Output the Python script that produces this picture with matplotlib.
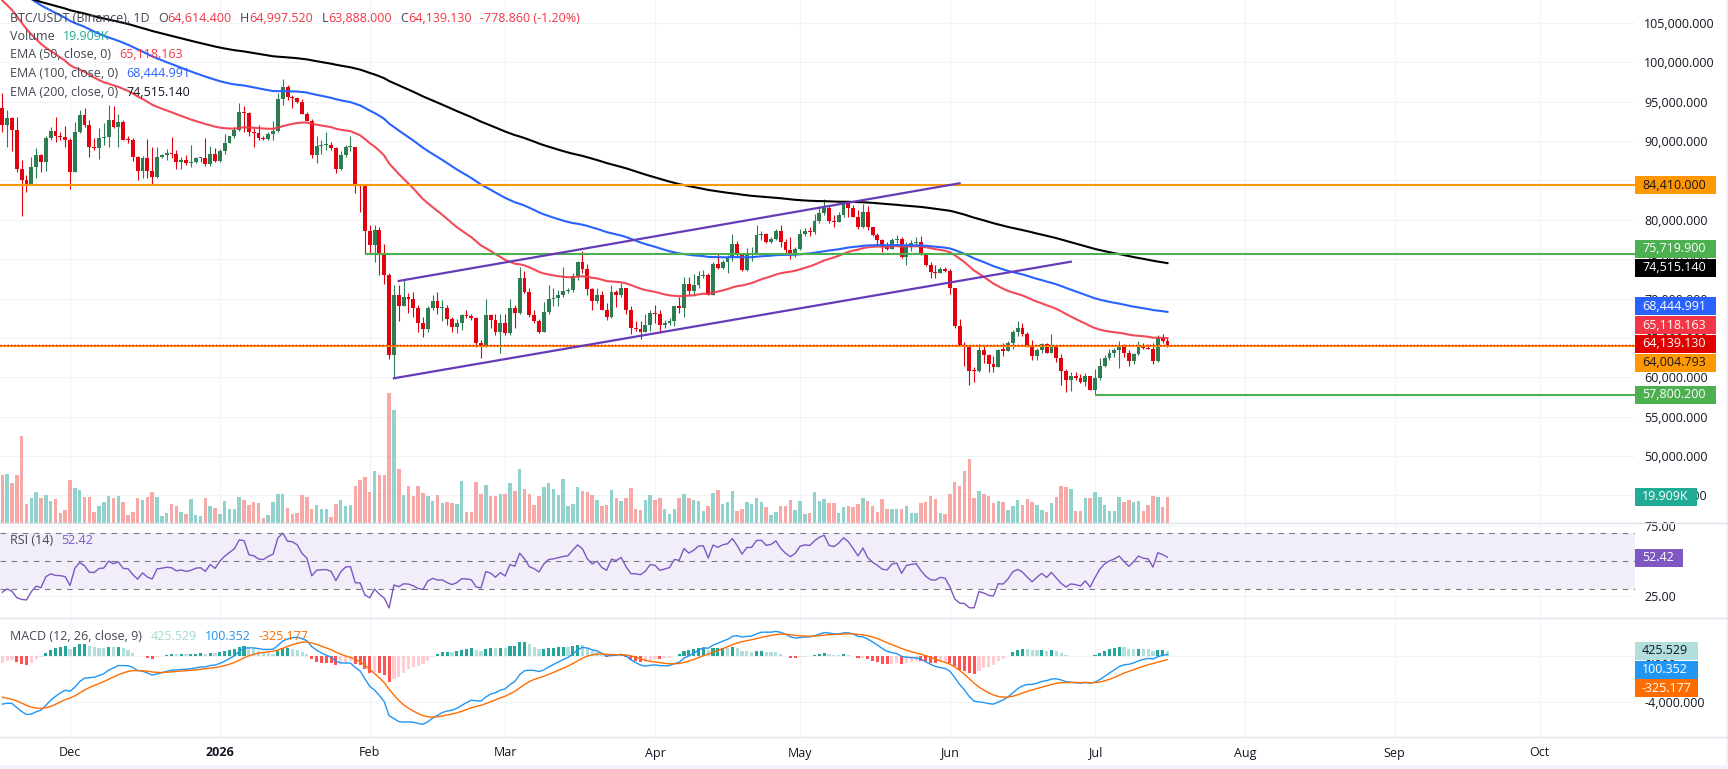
import numpy as np
import pandas as pd
import matplotlib
matplotlib.use("Agg")
import matplotlib.pyplot as plt
import matplotlib.transforms as mtransforms
from matplotlib.patches import Rectangle
from matplotlib.lines import Line2D
from matplotlib.ticker import FuncFormatter

plt.rcParams['font.family'] = ['Open Sans', 'DejaVu Sans']

# ---------------- data ----------------
# daily BTC/USDT candles, prices in thousands of USDT, first candle 2025-11-17
first_date = '2025-11-17'
first_open_k = 94.2
close_k = [
    92.0, 92.9, 91.4, 86.5, 85.1, 84.6, 86.7, 88.2, 87.3, 90.4,
    91.3, 90.6, 90.5, 90.1, 86.1, 91.2, 93.3, 92.0, 89.2, 89.1,
    90.35, 90.5, 92.7, 91.8, 92.4, 90.2, 90.1, 88.0, 86.2, 87.8,
    86.2, 85.4, 88.0, 88.2, 88.45, 88.3, 87.4, 87.6, 87.2, 87.4,
    87.8, 87.9, 87.1, 88.3, 87.5, 88.8, 89.8, 90.6, 91.4, 93.7,
    93.6, 91.2, 91.0, 90.4, 90.3, 90.9, 91.3, 95.3, 96.9, 95.6,
    95.5, 95.0, 93.5, 92.6, 88.2, 89.4, 89.5, 89.55, 89.1, 86.5,
    88.2, 89.2, 89.3, 84.4, 84.3, 78.6, 76.8, 78.7, 75.7, 73.0,
    62.8, 70.5, 69.1, 70.2, 70.0, 68.8, 66.9, 66.1, 68.8, 69.7,
    68.8, 68.85, 67.4, 66.4, 66.9, 67.9, 67.8, 67.5, 64.4, 63.9,
    67.9, 67.3, 65.7, 66.9, 65.6, 68.8, 68.2, 72.6, 70.8, 67.9,
    67.1, 65.8, 68.3, 69.9, 70.1, 70.5, 70.9, 71.1, 72.9, 74.7,
    73.8, 71.2, 69.7, 70.5, 68.6, 67.7, 70.8, 70.4, 71.3, 68.6,
    66.2, 66.1, 65.8, 66.6, 68.2, 68.0, 66.6, 66.9, 67.2, 69.0,
    68.8, 71.9, 70.9, 71.7, 72.9, 73.0, 70.5, 74.4, 73.9, 74.7,
    75.1, 76.9, 75.5, 73.6, 75.7, 75.75, 78.1, 78.2, 77.2, 77.5,
    78.6, 77.2, 76.2, 75.5, 76.3, 78.2, 78.6, 78.5, 79.8, 80.9,
    81.5, 79.9, 79.7, 80.6, 82.1, 81.5, 80.4, 79.1, 81.0, 79.1,
    78.1, 77.4, 76.5, 76.3, 77.4, 77.6, 75.3, 76.8, 77.0, 77.15,
    75.7, 74.3, 73.4, 73.3, 73.7, 73.5, 71.3, 66.5, 64.1, 63.8,
    60.85, 60.8, 63.5, 62.8, 61.65, 61.35, 63.5, 63.4, 64.3, 65.7,
    66.2, 65.5, 64.1, 62.7, 63.5, 64.2, 63.1, 64.0, 62.5, 60.85,
    59.6, 60.1, 59.9, 59.45, 60.2, 58.4, 59.9, 61.4, 62.5, 63.1,
    63.5, 64.1, 63.1, 62.1, 63.0, 64.1, 63.7, 63.6, 62.1, 64.95,
    64.614, 64.139]
high_k = [
    96.1, 93.9, 93.1, 93.1, 87.6, 85.7, 88.0, 89.1, 88.4, 90.6,
    91.8, 93.1, 91.1, 91.9, 90.4, 92.4, 94.0, 94.2, 92.7, 90.4,
    91.6, 92.3, 94.6, 94.4, 93.5, 92.7, 90.6, 90.4, 88.1, 88.1,
    90.3, 89.3, 89.3, 88.4, 89.0, 90.5, 88.9, 88.0, 88.2, 89.5,
    88.0, 88.0, 90.4, 89.4, 89.1, 89.0, 90.9, 90.6, 91.8, 94.8,
    94.4, 93.7, 91.6, 92.0, 90.6, 91.2, 92.5, 96.1, 97.9, 97.1,
    95.9, 95.6, 95.3, 93.7, 92.8, 90.6, 90.2, 91.2, 89.9, 89.2,
    88.7, 89.5, 90.6, 89.3, 84.6, 84.3, 79.3, 79.3, 79.1, 76.9,
    73.2, 71.7, 71.7, 72.4, 70.7, 70.8, 69.2, 67.7, 69.0, 70.4,
    70.8, 69.8, 69.2, 67.7, 67.4, 68.1, 68.6, 68.0, 67.6, 64.7,
    69.9, 68.1, 68.1, 68.1, 68.1, 69.9, 69.2, 74.0, 73.5, 71.4,
    68.5, 67.4, 69.5, 71.7, 71.3, 71.1, 74.0, 71.3, 73.3, 74.8,
    76.0, 74.4, 71.3, 71.3, 70.9, 69.4, 71.7, 71.1, 72.0, 71.3,
    69.0, 67.1, 67.1, 68.1, 68.5, 69.2, 68.6, 67.3, 67.5, 69.1,
    70.2, 72.7, 72.8, 73.1, 73.5, 73.6, 73.2, 74.7, 75.8, 74.9,
    75.5, 78.2, 77.3, 75.7, 76.4, 76.6, 79.3, 78.6, 78.3, 77.8,
    78.8, 79.4, 77.5, 77.8, 76.5, 78.8, 79.0, 79.1, 80.7, 81.8,
    82.7, 81.8, 80.6, 81.0, 82.4, 82.3, 81.9, 81.3, 82.0, 81.7,
    79.1, 78.3, 77.6, 77.2, 77.7, 78.1, 77.8, 77.2, 77.4, 77.8,
    77.9, 75.8, 74.6, 74.3, 74.0, 73.97, 73.8, 71.4, 67.4, 64.5,
    63.9, 61.3, 64.2, 64.1, 63.0, 62.7, 63.6, 64.3, 64.66, 66.0,
    67.2, 66.9, 65.8, 64.7, 63.7, 64.3, 64.4, 65.5, 64.1, 62.9,
    61.0, 60.7, 60.7, 60.4, 60.5, 60.2, 61.1, 62.5, 62.8, 63.6,
    63.7, 64.66, 64.2, 63.5, 63.1, 64.66, 64.3, 64.2, 64.4, 65.4,
    65.5, 64.9975]
low_k = [
    91.2, 89.3, 88.7, 86.1, 80.5, 83.5, 84.6, 85.3, 86.1, 86.2,
    90.1, 89.9, 90.1, 89.2, 83.9, 86.1, 91.0, 91.8, 88.0, 88.9,
    87.7, 89.5, 89.3, 91.6, 89.3, 90.1, 89.7, 87.5, 85.1, 85.3,
    85.3, 84.4, 85.3, 87.8, 87.6, 87.8, 86.5, 86.4, 87.0, 86.7,
    87.2, 87.4, 86.8, 86.8, 87.4, 87.4, 88.4, 89.7, 90.4, 91.3,
    91.2, 90.6, 89.3, 90.1, 90.2, 90.1, 90.1, 91.1, 94.6, 95.2,
    94.2, 94.9, 93.4, 92.5, 87.9, 87.2, 88.4, 88.9, 88.9, 86.0,
    86.3, 88.0, 88.8, 83.4, 81.0, 75.72, 75.7, 74.6, 73.0, 71.9,
    62.3, 59.875, 67.2, 69.0, 68.2, 67.7, 65.7, 65.1, 65.7, 68.6,
    68.1, 67.2, 66.6, 65.8, 65.6, 66.0, 67.5, 67.3, 63.9, 62.5,
    63.9, 66.2, 65.4, 63.05, 65.4, 65.4, 66.2, 68.0, 70.7, 67.7,
    66.9, 65.6, 65.7, 68.1, 69.0, 69.1, 70.2, 70.7, 70.8, 72.3,
    73.2, 70.5, 68.5, 69.4, 68.5, 67.3, 67.5, 68.9, 70.25, 68.1,
    65.5, 65.9, 64.9, 65.7, 65.9, 66.9, 65.6, 66.2, 66.6, 66.5,
    68.2, 67.7, 70.5, 70.3, 71.4, 72.6, 70.5, 70.5, 73.7, 73.7,
    73.3, 74.8, 75.3, 73.5, 73.5, 74.8, 75.9, 77.4, 77.1, 77.0,
    77.4, 76.5, 75.5, 75.0, 75.3, 76.2, 78.0, 78.0, 78.2, 79.6,
    80.6, 79.6, 79.1, 80.0, 80.3, 80.4, 80.3, 78.8, 78.9, 78.7,
    78.0, 76.8, 75.9, 76.2, 76.5, 77.0, 75.2, 74.3, 76.1, 76.7,
    75.5, 74.1, 72.6, 72.6, 73.2, 73.4, 70.6, 66.2, 64.0, 61.4,
    59.0, 59.4, 60.7, 61.8, 60.7, 60.7, 61.3, 62.7, 63.3, 63.6,
    65.25, 65.25, 63.9, 62.2, 62.2, 63.1, 63.05, 63.05, 61.9, 59.0,
    58.1, 58.3, 59.7, 59.3, 58.9, 58.4, 57.8002, 59.7, 61.3, 62.2,
    62.6, 61.2, 62.6, 61.4, 61.7, 62.8, 63.6, 63.6, 61.7, 62.0,
    64.4, 63.888]
# volume in thousands of BTC
volume_k = [
    36.8, 37.5, 30.4, 36.8, 66.6, 14.6, 18.9, 23.5, 18.9, 21.4,
    16.8, 18.1, 7.9, 9.9, 33.0, 26.6, 25.4, 20.2, 20.2, 8.2,
    13.0, 16.3, 20.7, 19.4, 20.7, 15.8, 6.1, 8.7, 19.4, 17.6,
    19.7, 23.5, 19.7, 5.4, 7.4, 14.3, 13.0, 8.7, 6.9, 18.1,
    6.1, 5.4, 18.9, 13.0, 11.2, 6.9, 16.8, 10.7, 10.7, 19.7,
    17.6, 13.8, 15.8, 15.1, 3.6, 6.1, 15.8, 22.2, 22.2, 11.7,
    6.9, 7.4, 21.4, 19.7, 10.7, 13.8, 10.7, 10.7, 4.9, 14.6,
    17.6, 13.0, 13.8, 28.4, 33.0, 35.5, 24.0, 39.8, 36.8, 36.8,
    99.8, 86.5, 41.3, 21.1, 28.2, 20.9, 28.2, 23.2, 20.9, 17.1,
    21.1, 15.6, 16.3, 15.6, 14.6, 32.1, 8.7, 8.7, 31.6, 22.2,
    29.4, 20.9, 20.9, 22.2, 22.2, 30.6, 24.8, 41.6, 26.0, 22.2,
    13.8, 20.9, 27.2, 30.6, 26.0, 21.1, 33.3, 13.0, 14.3, 27.6,
    24.5, 23.7, 21.4, 17.6, 13.0, 13.8, 25.6, 19.4, 16.6, 19.4,
    27.1, 11.0, 9.7, 17.6, 21.4, 17.6, 18.9, 11.0, 7.2, 11.0,
    19.4, 22.5, 18.9, 17.6, 16.6, 9.0, 13.0, 23.2, 25.3, 14.3,
    16.3, 24.5, 9.0, 11.0, 15.8, 14.6, 18.9, 15.8, 11.9, 6.1,
    8.1, 13.0, 13.3, 17.6, 9.7, 16.6, 6.6, 7.7, 23.7, 16.6,
    18.1, 15.6, 15.6, 7.7, 11.9, 13.3, 11.9, 14.6, 18.9, 16.8,
    13.3, 8.3, 18.1, 10.5, 10.5, 10.5, 10.5, 13.0, 7.7, 7.7,
    15.1, 16.3, 20.7, 18.1, 7.7, 6.6, 22.0, 31.5, 28.2, 39.7,
    48.6, 19.2, 24.5, 22.0, 20.7, 15.6, 17.1, 16.4, 9.9, 13.0,
    17.6, 13.8, 18.4, 16.4, 13.8, 9.9, 8.1, 15.6, 20.2, 28.4,
    27.4, 26.1, 9.2, 9.2, 19.4, 19.4, 24.0, 20.2, 13.8, 9.2,
    9.2, 20.2, 16.4, 17.6, 15.9, 17.1, 9.2, 13.8, 20.7, 19.7,
    12.0, 19.909]

# values printed in the legends
ohlc_last = [64614.400, 64997.520, 63888.000, 64139.130]
change_text = '-778.860 (-1.20%)'
volume_last = '19.909K'
ema_periods = [50, 100, 200]
ema_seeds = [108500, 111000, 109500]
ema_last = [65118.163, 68444.991, 74515.140]
rsi_last = 52.42
macd_last = [425.529, 100.352, -325.177]   # histogram, macd, signal
macd_seeds = [96500, 100600, -3400]        # ema12, ema26, signal before first bar
rsi_seeds = [600, 1400]                    # average gain / loss before first bar

# drawings
levels = [84410.000, 75719.900, 64004.793, 57800.200]
level_start = [None, '2026-01-31', None, '2026-07-01']
level_color = ['#FF9800', '#4CAF50', '#FF9800', '#4CAF50']
channel_upper = [('2026-02-07', 72234), ('2026-06-03', 84640)]
channel_lower = [('2026-02-06', 59875), ('2026-06-26', 74680)]

assert len(close_k) == len(high_k) == len(low_k) == len(volume_k)

# ---------------- derived series ----------------
t0 = pd.Timestamp(first_date)
n = len(close_k)
x = np.arange(n)
close = np.array(close_k) * 1000
opn = np.concatenate([[first_open_k * 1000], close[:-1]])
high = np.maximum(np.array(high_k) * 1000, np.maximum(opn, close))
low = np.minimum(np.array(low_k) * 1000, np.minimum(opn, close))
volume = np.array(volume_k)
up = close >= opn


def day(d):
    return (pd.Timestamp(d) - t0).days


def ema(values, period, seed):
    a = 2.0 / (period + 1)
    out = np.empty(len(values))
    e = seed
    for i, v in enumerate(values):
        e = a * v + (1 - a) * e
        out[i] = e
    return out


emas = [ema(close, p, s) for p, s in zip(ema_periods, ema_seeds)]

macd = ema(close, 12, macd_seeds[0]) - ema(close, 26, macd_seeds[1])
signal = ema(macd, 9, macd_seeds[2])
hist = macd - signal
hprev = np.concatenate([[hist[0]], hist[:-1]])
hist_col = np.where(hist >= 0,
                    np.where(hist >= hprev, '#26A69A', '#B2DFDB'),
                    np.where(hist < hprev, '#FF5252', '#FFCDD2'))

ag, al = rsi_seeds
rsi = []
for d in np.diff(np.concatenate([[opn[0]], close])):
    ag = (ag * 13 + max(d, 0)) / 14
    al = (al * 13 + max(-d, 0)) / 14
    rsi.append(100 - 100 / (1 + ag / al))
rsi = np.array(rsi)

month_starts = pd.date_range('2025-12-01', '2026-10-01', freq='MS')
month_x = np.array([day(m) for m in month_starts])
month_lbl = ['2026' if m.month == 1 else m.strftime('%b') for m in month_starts]

# ---------------- layout ----------------
W, H = 1728, 769
fig = plt.figure(figsize=(W / 100, H / 100), dpi=100, facecolor='white')


def rect(x0, y0, x1, y1):
    return [x0 / W, 1 - y1 / H, (x1 - x0) / W, (y1 - y0) / H]


ax = fig.add_axes(rect(0, 0, 1635, 523))
ax_rsi = fig.add_axes(rect(0, 523, 1635, 618))
ax_macd = fig.add_axes(rect(0, 618, 1635, 737))

UP, DN = '#2E7D52', '#E3000F'
TXT = '#131722'
LBL = '#434651'
GRID = '#F0F3FA'
XLIM = (-0.48, 337.7)

for a in (ax, ax_rsi, ax_macd):
    a.set_xlim(*XLIM)
    for s in a.spines.values():
        s.set_visible(False)
    a.set_axisbelow(True)
    a.set_xticks(month_x)
    a.grid(True, color=GRID, lw=0.8)
    a.yaxis.tick_right()
    a.tick_params(axis='both', length=0, labelbottom=False, labelleft=False,
                  labelright=True, labelsize=9, labelcolor=TXT, pad=6.5)

# ---- main pane ----
ax.set_ylim(41490, 107921)
ax.set_yticks(np.arange(45000, 105001, 5000))
ax.yaxis.set_major_formatter(FuncFormatter(lambda v, _: f'{v:,.3f}'))

VOL_TOP = 400.0
vol_tr = mtransforms.blended_transform_factory(
    ax.transData, mtransforms.Affine2D().scale(1, 1 / VOL_TOP) + ax.transAxes)
ax.bar(x, volume, width=0.72, color=np.where(up, '#92D2CC', '#F7A9A7'),
       transform=vol_tr, zorder=1, linewidth=0)

col = np.where(up, UP, DN)
ax.vlines(x, low, high, colors=col, lw=0.8, zorder=3)
body_lo = np.minimum(opn, close)
body_h = np.maximum(np.abs(close - opn), 130)
ax.bar(x, body_h, width=0.8, bottom=body_lo, color=col, linewidth=0, zorder=3)

for e, c in zip(emas, ['#F23645', '#2962FF', '#000000']):
    ax.plot(x, e, color=c, lw=1.5, zorder=4, alpha=0.9 if c == '#F23645' else 1)

for lv, st, c in zip(levels, level_start, level_color):
    x0 = XLIM[0] if st is None else day(st)
    ax.hlines(lv, x0, XLIM[1], color=c, lw=1.5, zorder=6)
ax.axhline(ohlc_last[3], color=DN, lw=1, ls=(0, (1, 1.5)), zorder=6)

for ch in (channel_upper, channel_lower):
    ax.plot([day(d) for d, _ in ch], [p for _, p in ch], color='#673AB7', lw=1.6, zorder=6)

# ---- RSI pane ----
ax_rsi.set_ylim(9.17, 77.4)
ax_rsi.set_yticks([25, 75])
ax_rsi.yaxis.set_major_formatter(FuncFormatter(lambda v, _: f'{v:.2f}'))
ax_rsi.axhspan(30, 70, color='#F2EEF9', zorder=0.6, lw=0)
for lv in (70, 50, 30):
    ax_rsi.axhline(lv, color='#787B86', lw=0.8, ls=(0, (5, 5)), zorder=1)
ax_rsi.plot(x, rsi, color='#7E57C2', lw=1, zorder=3)

# ---- MACD pane ----
ax_macd.set_ylim(-6975, 3235)
ax_macd.set_yticks([0, -4000])
ax_macd.yaxis.set_major_formatter(FuncFormatter(lambda v, _: f'{v:,.3f}'))
ax_macd.bar(x, hist, width=0.65, color=hist_col, linewidth=0, zorder=2)
ax_macd.plot(x, macd, color='#2196F3', lw=1, zorder=3)
ax_macd.plot(x, signal, color='#FF6D00', lw=1, zorder=3)

# ---------------- separators, time axis ----------------
for yy in (523, 618, 737):
    fig.add_artist(Line2D([0, 1], [1 - yy / H] * 2, transform=fig.transFigure,
                          color='#E0E3EB', lw=1))
fig.add_artist(Rectangle((0, 0), 1, 4 / H, transform=fig.transFigure,
                         facecolor='#F0F3FA', edgecolor='none'))
fig.add_artist(Rectangle((1 - 2 / W, 0), 2 / W, 1, transform=fig.transFigure,
                         facecolor='#F0F3FA', edgecolor='none'))

for mx, lbl in zip(month_x, month_lbl):
    px = ax.transData.transform((mx, 0))[0]
    fig.text(px / W, 1 - 753 / H, lbl, ha='center', va='center', fontsize=9,
             color=TXT, fontweight='bold' if lbl.isdigit() else 'normal')


# ---------------- price-scale labels ----------------
def top_px(a, v):
    return H - a.transData.transform((0, v))[1]


def place(ys, h, mode):
    order = list(np.argsort(ys))
    out = {}
    if mode == 'push':
        last = -1e9
        for i in order:
            out[i] = max(ys[i], last + h)
            last = out[i]
        return [out[i] for i in range(len(ys))]
    groups = [[i] for i in order]
    merged = True
    while merged:
        merged = False
        for k in range(len(groups) - 1):
            a, b = groups[k], groups[k + 1]
            ca, cb = np.mean([ys[i] for i in a]), np.mean([ys[i] for i in b])
            if cb - len(b) * h / 2 < ca + len(a) * h / 2:
                groups[k] = a + b
                del groups[k + 1]
                merged = True
                break
    for g in groups:
        c = np.mean([ys[i] for i in g])
        for j, i in enumerate(g):
            out[i] = c + (j - (len(g) - 1) / 2) * h
    return [out[i] for i in range(len(ys))]


def box(y, text, bg, fg, width=81):
    fig.add_artist(Rectangle((1635 / W, 1 - (y + 9) / H), width / W, 18 / H,
                             transform=fig.transFigure, facecolor=bg,
                             edgecolor='none', zorder=5))
    fig.text(1642 / W, 1 - y / H, text, color=fg, fontsize=9, va='center',
             ha='left', zorder=6)


main_labels = [
    (levels[0], '#FF9800', TXT),
    (levels[1], '#4CAF50', 'white'),
    (ema_last[2], '#000000', 'white'),
    (ema_last[1], '#2962FF', 'white'),
    (ema_last[0], '#F23645', 'white'),
    (ohlc_last[3], '#E00000', 'white'),
    (levels[2], '#FF9800', TXT),
    (levels[3], '#4CAF50', 'white'),
]
ys = place([top_px(ax, v) for v, _, _ in main_labels], 18.8, 'center')
for y, (v, bg, fg) in zip(ys, main_labels):
    box(y, f'{v:,.3f}', bg, fg)

vol_y = H - vol_tr.transform((0, volume[-1]))[1]
box(vol_y, volume_last, '#22AB94', 'white', width=62)

box(top_px(ax_rsi, rsi_last), f'{rsi_last:.2f}', '#7E57C2', 'white', width=48)

macd_labels = [(macd_last[0], '#B2DFDB', TXT), (macd_last[1], '#2196F3', 'white'),
               (macd_last[2], '#FF6D00', 'white')]
ys = place([top_px(ax_macd, v) for v, _, _ in macd_labels], 18.8, 'push')
for y, (v, bg, fg) in zip(ys, macd_labels):
    box(y, f'{v:,.3f}', bg, fg, width=63)


# ---------------- legends ----------------
def legend(host, y, parts):
    t = fig.text(10 / W, 1 - y / H, parts[0][0], color=parts[0][1], fontsize=9,
                 va='center', ha='left', zorder=7)
    for s, c, gap in parts[1:]:
        t = host.annotate(s, xy=(1, 0.5), xycoords=t, xytext=(gap, 0),
                          textcoords='offset points', va='center', ha='left',
                          color=c, fontsize=9, annotation_clip=False, zorder=7)


RED = '#F23645'
o, h, l, c = ohlc_last
legend(ax, 18, [('BTC/USDT (Binance), 1D', LBL), ('O', LBL, 6), (f'{o:,.3f}', RED, 0),
                ('H', LBL, 6), (f'{h:,.3f}', RED, 0), ('L', LBL, 6), (f'{l:,.3f}', RED, 0),
                ('C', LBL, 6), (f'{c:,.3f}', RED, 0), (change_text, RED, 6)])
legend(ax, 37, [('Volume', LBL), (volume_last, '#22AB94', 6)])
for k, (p, v, cc) in enumerate(zip(ema_periods, ema_last, [RED, '#2962FF', TXT])):
    legend(ax, 55 + 18.5 * k, [(f'EMA ({p}, close, 0)', LBL), (f'{v:,.3f}', cc, 6)])
legend(ax_rsi, 541, [('RSI (14)', LBL), (f'{rsi_last:.2f}', '#7E57C2', 6)])
legend(ax_macd, 636, [('MACD (12, 26, close, 9)', LBL), (f'{macd_last[0]:,.3f}', '#A3DAD0', 6),
                      (f'{macd_last[1]:,.3f}', '#2196F3', 6),
                      (f'{macd_last[2]:,.3f}', '#FF6D00', 6)])

fig.savefig('out.png', dpi=100, facecolor='white')
